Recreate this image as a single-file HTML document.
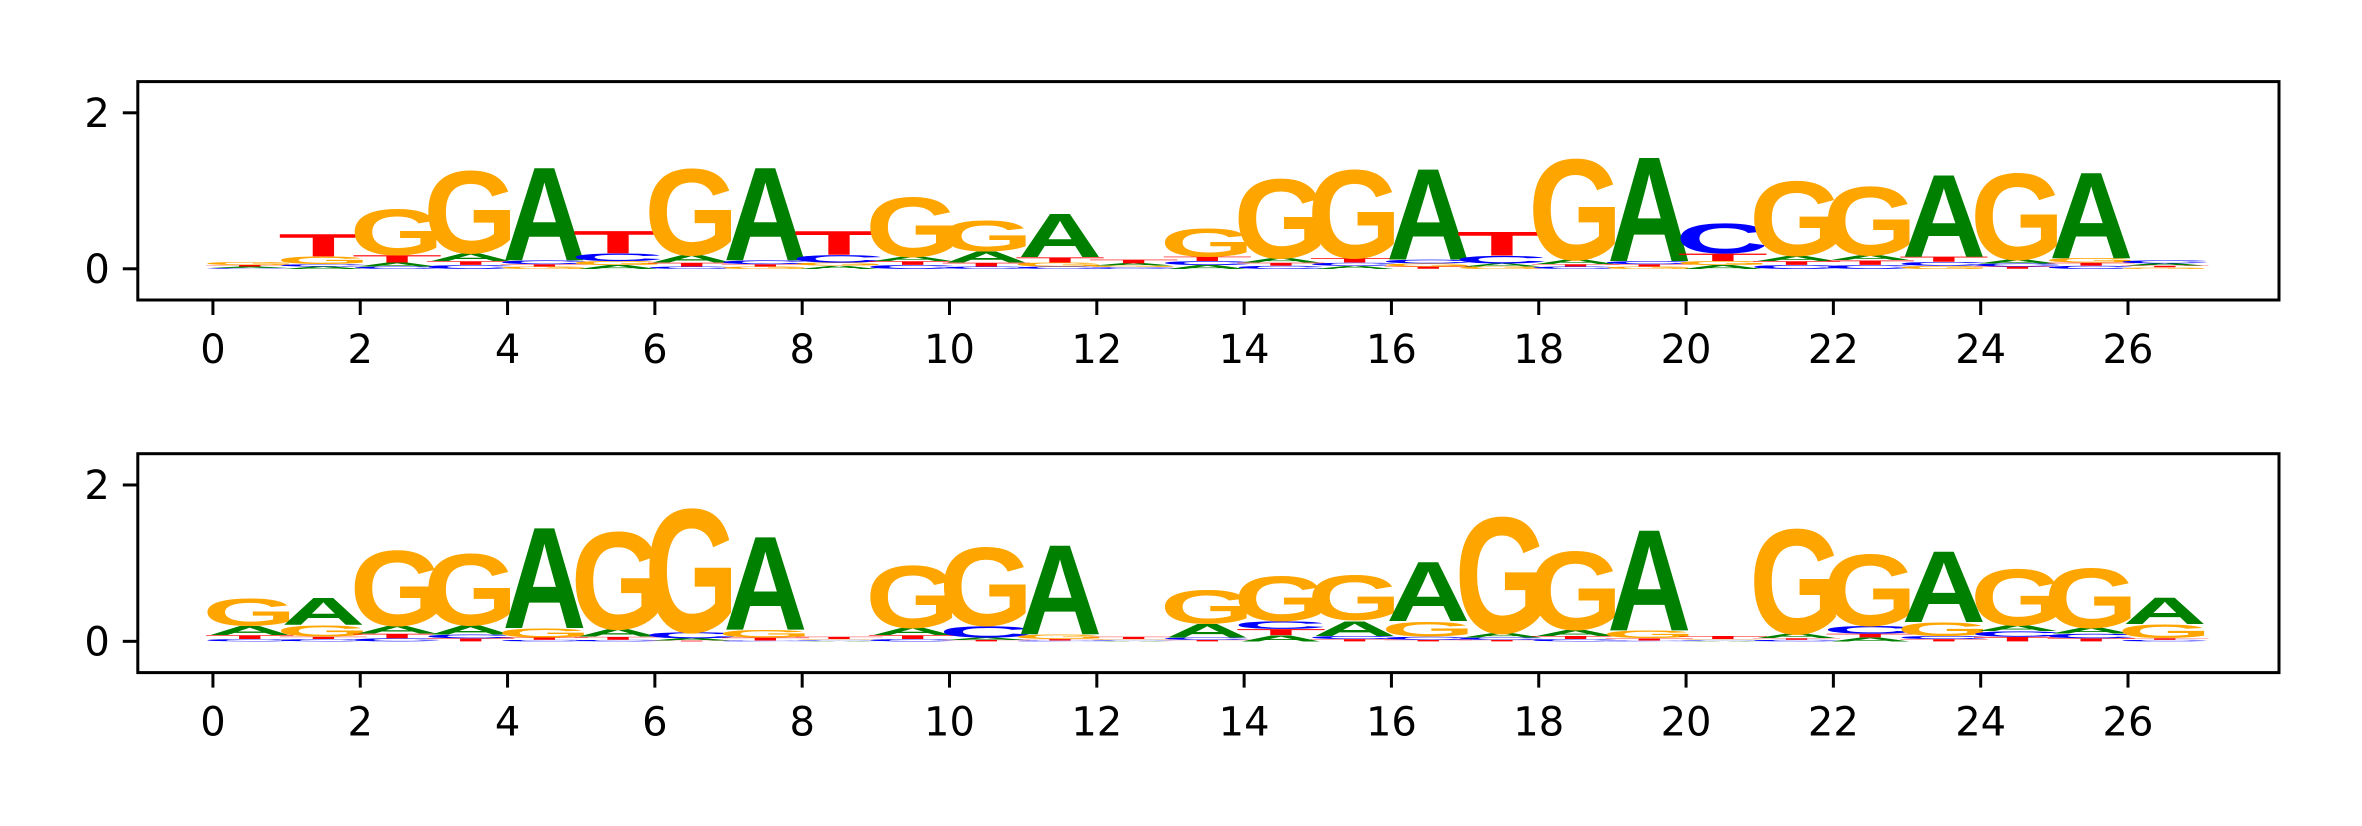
<!DOCTYPE html>
<html><head><meta charset="utf-8"><style>
html,body{margin:0;padding:0;background:#fff;}
svg{display:block;}
text{font-family:"DejaVu Sans","Liberation Sans",sans-serif;}
</style></head><body>
<svg id="chart" width="2362" height="826" viewBox="0 0 2362 826" xmlns="http://www.w3.org/2000/svg"></svg>
<script>
// Heights per position: [A, C, G, T]
const positions = [0,1,2,3,4,5,6,7,8,9,10,11,12,13,14,15,16,17,18,19,20,21,22,23,24,25,26];
const letters = ['A','C','G','T'];
const topA = [0.02,0.03,0.05,0.10,1.25,0.05,0.10,1.25,0.04,0.06,0.15,0.58,0.03,0.05,0.06,0.04,1.22,0.04,0.06,1.40,0.05,0.07,0.07,1.10,0.05,1.15,0.03];
const topC = [0.01,0.03,0.03,0.05,0.05,0.10,0.03,0.05,0.10,0.05,0.03,0.03,0.02,0.05,0.04,0.04,0.05,0.10,0.03,0.04,0.40,0.05,0.05,0.05,0.04,0.04,0.04];
const topG = [0.04,0.10,0.62,1.10,0.03,0.05,1.15,0.03,0.04,0.80,0.41,0.05,0.02,0.37,1.06,1.18,0.04,0.03,1.35,0.03,0.05,1.00,0.92,0.04,1.15,0.06,0.02];
const topT = [0.02,0.30,0.10,0.05,0.03,0.30,0.05,0.03,0.32,0.05,0.05,0.07,0.05,0.06,0.04,0.06,0.03,0.32,0.03,0.03,0.10,0.05,0.06,0.07,0.03,0.04,0.02];
const botA = [0.12,0.36,0.10,0.12,1.35,0.10,0.03,1.25,0.01,0.10,0.03,1.20,0.01,0.18,0.08,0.20,0.80,0.06,0.08,1.35,0.01,0.06,0.05,0.95,0.08,0.08,0.35];
const botC = [0.03,0.03,0.04,0.05,0.02,0.02,0.08,0.01,0.01,0.03,0.15,0.01,0.01,0.03,0.10,0.04,0.04,0.03,0.03,0.01,0.01,0.02,0.10,0.04,0.07,0.06,0.02];
const botG = [0.36,0.15,1.00,0.95,0.12,1.30,1.65,0.10,0.01,0.83,1.05,0.06,0.01,0.45,0.60,0.60,0.20,1.55,1.05,0.10,0.01,1.40,0.95,0.18,0.75,0.80,0.18];
const botT = [0.05,0.03,0.06,0.04,0.03,0.04,0.01,0.04,0.03,0.05,0.02,0.02,0.03,0.02,0.08,0.03,0.02,0.02,0.04,0.03,0.04,0.02,0.05,0.03,0.06,0.04,0.02];
const xTicks = [0,2,4,6,8,10,12,14,16,18,20,22,24,26];
const yTicks = [0,2];

const NS = 'http://www.w3.org/2000/svg';
const svg = document.getElementById('chart');
const colors = {A:'#008000', C:'#0000ff', G:'#ffa500', T:'#ff0000'};
// left bearing, ink width at font-size 100
const glyph = {A:[0,72.2], C:[4.4,64.5], G:[4.4,69.4], T:[2.2,56.7]};
const CAP = 72.9;
const xMin = -1.02, xMax = 28.05, yMin = -0.4, yMax = 2.4;
const left = 137.8, right = 2279;

function mk(tag, attrs, parent){
  const e = document.createElementNS(NS, tag);
  for (const k in attrs) e.setAttribute(k, attrs[k]);
  parent.appendChild(e);
  return e;
}

function drawPanel(name, top, bottom, series){
  const g = mk('g', {}, svg);
  
  
  const xs = v => left + (v - xMin) / (xMax - xMin) * (right - left);
  const ys = v => bottom - (v - yMin) / (yMax - yMin) * (bottom - top);
  const logo = mk('g', {}, g);
  
  
  positions.forEach((p, i) => {
    const items = letters.map((L, k) => ({L, h: series[k][i]})).sort((a, b) => a.h - b.h);
    let base = 0;
    const x0 = xs(p), x1 = xs(p + 1);
    const w = x1 - x0;
    items.forEach(it => {
      if (it.h <= 0) return;
      const yb = ys(base), yt = ys(base + it.h);
      const h = yb - yt;
      const [lsb, ink] = glyph[it.L];
      const ww = w * 1.14;
      const sx = ww / ink, sy = h / CAP;
      const t = mk('text', {
        x: 0, y: 0, 'font-size': 100, 'font-weight': 'bold',
        fill: colors[it.L],
        style: 'font-family:"Liberation Sans",sans-serif',
        transform: `translate(${x0 - w * 0.07 - lsb * sx},${yb}) scale(${sx},${sy})`
      }, logo);
      
      
      t.textContent = it.L;
      base += it.h;
    });
  });
  const frame = mk('rect', {x: left, y: top, width: right - left, height: bottom - top, fill: 'none', stroke: '#000', 'stroke-width': 3}, g);
  
  
  xTicks.forEach(v => {
    const x = xs(v);
    const tk = mk('line', {x1: x, x2: x, y1: bottom, y2: bottom + 15, stroke: '#000', 'stroke-width': 3}, g);
    
    
    const lb = mk('text', {x: x, y: bottom + 63, 'font-size': 40, 'text-anchor': 'middle', fill: '#000'}, g);
    
    
    lb.textContent = v;
  });
  yTicks.forEach(v => {
    const y = ys(v);
    const tk = mk('line', {x1: left - 15, x2: left, y1: y, y2: y, stroke: '#000', 'stroke-width': 3}, g);
    
    
    const lb = mk('text', {x: left - 28, y: y + 14, 'font-size': 40, 'text-anchor': 'end', fill: '#000'}, g);
    
    
    lb.textContent = v;
  });
}

drawPanel('top-logo-panel', 81.6, 300, [topA, topC, topG, topT]);
drawPanel('bottom-logo-panel', 453.7, 672.6, [botA, botC, botG, botT]);
</script>
</body></html>
